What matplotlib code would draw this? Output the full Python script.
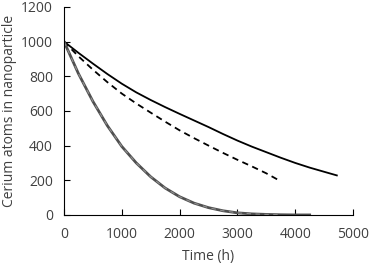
import matplotlib
matplotlib.use('Agg')
import matplotlib.pyplot as plt

# upper solid curve
t_solid = [0, 250, 500, 750, 1000, 1250, 1500, 1750, 2000, 2250, 2500, 2750,
           3000, 3250, 3500, 3750, 4000, 4250, 4500, 4720]
n_solid = [1000, 935, 873, 813, 757, 707, 663, 622, 583, 545, 507, 467,
           429, 394, 362, 330, 300, 273, 249, 228]

# dashed curve
t_dash = [0, 250, 500, 750, 1000, 1250, 1500, 1750, 2000, 2250, 2500, 2750,
          3000, 3250, 3500, 3690]
n_dash = [1000, 915, 838, 766, 700, 643, 590, 538, 488, 443, 400, 358,
          318, 280, 240, 205]

# fast decay (dark gray solid + light gray dashed overlay)
t_fast = [0, 250, 500, 750, 1000, 1250, 1500, 1750, 2000, 2250, 2500, 2750,
          3000, 3250, 3500, 3750, 4000, 4250]
n_fast = [1000, 815, 655, 515, 395, 300, 220, 155, 105, 68, 42, 24,
          12, 6, 3, 1, 0, 0]
t_fast2 = t_fast[:16]
n_fast2 = n_fast[:16]

plt.rcParams['font.family'] = ['Open Sans', 'DejaVu Sans']

fig = plt.figure(figsize=(3.71, 2.66), dpi=100)
ax = fig.add_axes([0.1725, 0.192, 0.779, 0.782])

ax.plot(t_solid, n_solid, color='black', lw=1.3)
ax.plot(t_dash, n_dash, color='black', lw=1.3, linestyle=(0, (3.5, 2.5)))
ax.plot(t_fast, n_fast, color='#505050', lw=2.0)
ax.plot(t_fast2, n_fast2, color='#909090', lw=0.8, linestyle=(0, (4, 4)))

ax.set_xlim(0, 5000)
ax.set_ylim(0, 1200)
ax.set_xticks([0, 1000, 2000, 3000, 4000, 5000])
ax.set_yticks([0, 200, 400, 600, 800, 1000, 1200])
ax.spines['top'].set_visible(False)
ax.spines['right'].set_visible(False)
ax.tick_params(direction='in', length=4, width=0.8, labelsize=10,
               labelcolor='#404040')
ax.tick_params(axis='x', pad=9)
ax.tick_params(axis='y', pad=8)
ax.set_xlabel('Time (h)', fontsize=10, color='#404040', labelpad=5)
ax.set_ylabel('Cerium atoms in nanoparticle', fontsize=10, color='#404040', labelpad=3)

fig.savefig('out.png', dpi=100)
